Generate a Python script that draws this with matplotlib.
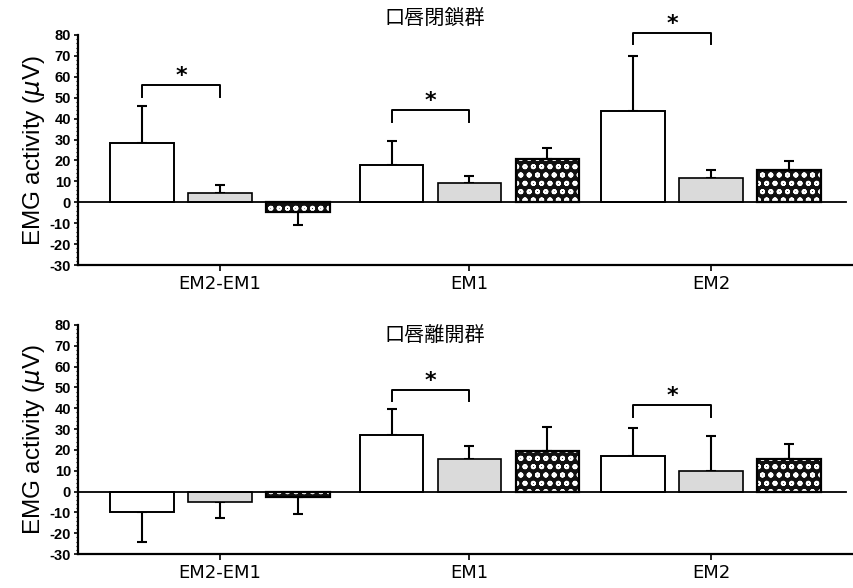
import matplotlib
matplotlib.use("Agg")
import matplotlib.pyplot as plt
import numpy as np

plt.rcParams['hatch.linewidth'] = 1.3

categories = ["EM2-EM1", "EM1", "EM2"]
titles = ["口唇閉鎖群", "口唇離開群"]

# panel 1 (口唇閉鎖群)
p1_white = [28.5, 18.0, 43.5]
p1_white_err = [17.5, 11.5, 26.5]
p1_gray = [4.5, 9.0, 11.5]
p1_gray_err = [4.0, 3.5, 3.8]
p1_dark = [-4.5, 20.5, 15.3]
p1_dark_err = [6.5, 5.5, 4.3]
p1_sig_groups = [0, 1, 2]
p1_sig_y = [56, 44, 81]

# panel 2 (口唇離開群)
p2_white = [-9.6, 27.0, 17.3]
p2_white_err = [14.4, 12.5, 13.0]
p2_gray = [-4.8, 15.4, 10.0]
p2_gray_err = [7.7, 6.6, 16.5]
p2_dark = [-2.4, 19.3, 15.4]
p2_dark_err = [8.6, 11.7, 7.2]
p2_sig_groups = [1, 2]
p2_sig_y = [49, 41.5]

yticks = list(range(-30, 81, 10))

fig = plt.figure(figsize=(8.54, 5.88), dpi=100)
ax1 = fig.add_axes([0.0913, 0.5493, 0.9087, 0.3912])
ax2 = fig.add_axes([0.0913, 0.0578, 0.9087, 0.3895])

group_x = np.array([0.0, 3.2, 6.3])
width = 0.82

def draw(ax, white, werr, gray, gerr, dark, derr, sig_groups, sig_y, title, title_y):
    series = [(white, werr, dict(facecolor='white', edgecolor='black', lw=1.4)),
              (gray, gerr, dict(facecolor='#dadada', edgecolor='black', lw=1.2)),
              (dark, derr, None)]
    for k, (vals, errs, style) in enumerate(series):
        xs = group_x + (k - 1)
        if style is not None:
            ax.bar(xs, vals, width, zorder=2, **style)
        else:
            ax.bar(xs, vals, width, facecolor='#111111', edgecolor='white',
                   hatch='oo', lw=0, zorder=2)
            ax.bar(xs, vals, width, facecolor='none', edgecolor='black',
                   lw=1.6, zorder=3)
        vals = np.array(vals)
        errs = np.array(errs)
        lower = np.where(vals < 0, errs, 0)
        upper = np.where(vals >= 0, errs, 0)
        ax.errorbar(xs, vals, yerr=[lower, upper], fmt='none', ecolor='black',
                    elinewidth=1.5, capsize=3.5, capthick=1.5, zorder=1)
    for g, yb in zip(sig_groups, sig_y):
        x0 = group_x[g] - 1
        x1 = group_x[g]
        ax.plot([x0, x0, x1, x1], [yb - 5.5, yb, yb, yb - 5.5], color='black',
                lw=1.4, clip_on=False, zorder=4)
        ax.text((x0 + x1) / 2, yb + 4.3, '*', ha='center', va='center',
                fontsize=16, fontweight='bold', clip_on=False)
    ax.axhline(0, xmin=0, xmax=0.99, color='black', lw=1.3, zorder=3)
    ax.set_xlim(-1.82, 8.13)
    ax.set_ylim(-30, 80)
    ax.set_yticks(yticks)
    ax.set_yticklabels([str(t) for t in yticks], fontsize=10.5,
                       family='Liberation Sans', fontweight='bold')
    ax.set_yticks(np.arange(-30, 81, 2), minor=True)
    ax.tick_params(axis='y', which='major', direction='out', length=3, width=1.2, pad=2)
    ax.tick_params(axis='y', which='minor', direction='out', length=1.5, width=0.8)
    ax.set_xticks(group_x)
    ax.set_xticklabels(categories, fontsize=13, family='DejaVu Sans')
    ax.tick_params(axis='x', direction='out', length=4, width=1.2, pad=3)
    for s in ['top', 'right']:
        ax.spines[s].set_visible(False)
    for s in ['left', 'bottom']:
        ax.spines[s].set_linewidth(1.6)
    ax.set_ylabel('EMG activity ($\\mu$V)', fontsize=17.5, family='Liberation Sans',
                  labelpad=2)
    ax.text(2.75, title_y, title, ha='center', va='center', fontsize=14.5,
            family=['Noto Sans CJK JP', 'DejaVu Sans'], clip_on=False)

draw(ax1, p1_white, p1_white_err, p1_gray, p1_gray_err, p1_dark, p1_dark_err,
     p1_sig_groups, p1_sig_y, titles[0], 88)
draw(ax2, p2_white, p2_white_err, p2_gray, p2_gray_err, p2_dark, p2_dark_err,
     p2_sig_groups, p2_sig_y, titles[1], 75)

fig.savefig("out.png", dpi=100)
